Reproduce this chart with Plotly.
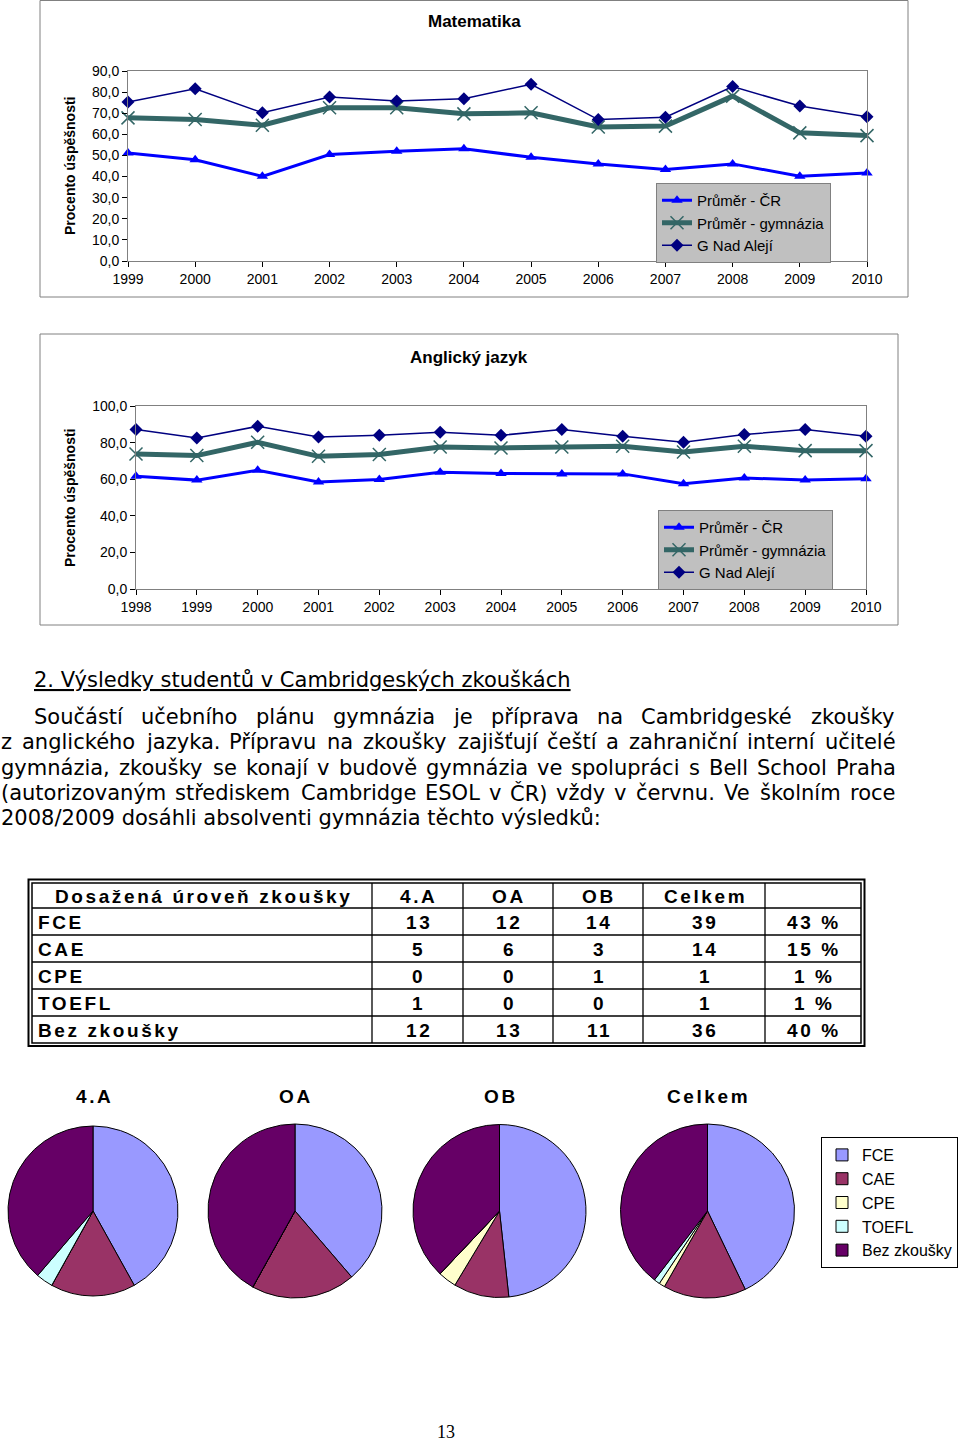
import unicodedata
import plotly.graph_objects as go

# ---------------- data ----------------
math_years = [1999, 2000, 2001, 2002, 2003, 2004, 2005, 2006, 2007, 2008, 2009, 2010]
math_cr = [51.2, 48.0, 40.1, 50.4, 52.0, 53.2, 49.1, 46.0, 43.3, 46.0, 40.1, 41.7]
math_gym = [67.8, 67.0, 64.3, 72.6, 72.6, 69.7, 70.2, 63.5, 63.9, 78.1, 60.7, 59.4]
math_gna = [75.3, 81.6, 70.2, 77.7, 75.8, 76.9, 83.7, 67.0, 68.1, 82.6, 73.4, 68.3]

eng_years = [1998, 1999, 2000, 2001, 2002, 2003, 2004, 2005, 2006, 2007, 2008, 2009, 2010]
eng_cr = [61.6, 59.5, 64.9, 58.5, 59.8, 63.8, 63.1, 62.9, 62.9, 57.5, 60.7, 59.5, 60.2]
eng_gym = [73.8, 72.9, 80.2, 72.5, 73.5, 77.6, 77.1, 77.6, 78.0, 74.9, 78.0, 75.6, 75.6]
eng_gna = [87.1, 82.5, 88.9, 83.1, 84.0, 85.6, 84.0, 87.1, 83.5, 80.2, 84.4, 87.1, 83.5]

series_names = ["Průměr - ČR", "Průměr - gymnázia", "G Nad Alejí"]

exam_levels = ["FCE", "CAE", "CPE", "TOEFL", "Bez zkoušky"]
class_names = ["4.A", "OA", "OB", "Celkem"]
counts_4A = [13, 5, 0, 1, 12]
counts_OA = [12, 6, 0, 0, 13]
counts_OB = [14, 3, 1, 0, 11]
counts_total = [39, 14, 1, 1, 36]
percent_labels = ["43 %", "15 %", "1 %", "1 %", "40 %"]
table_header = ["Dosažená úroveň zkoušky", "4.A", "OA", "OB", "Celkem", ""]

pie_colors = ["#9999FF", "#993366", "#FFFFCC", "#CCFFFF", "#660066"]

heading = "2. Výsledky studentů v Cambridgeských zkouškách"
para_lines = [
    "Součástí učebního plánu gymnázia je příprava na Cambridgeské zkoušky",
    "z anglického jazyka. Přípravu na zkoušky zajišťují čeští a zahraniční interní učitelé",
    "gymnázia, zkoušky se konají v budově gymnázia ve spolupráci s Bell School Praha",
    "(autorizovaným střediskem Cambridge ESOL v ČR) vždy v červnu. Ve školním roce",
    "2008/2009 dosáhli absolventi gymnázia těchto výsledků:",
]
page_number = "13"

# ---------------- helpers ----------------
W, H = 960, 1444
def X(px):
    return px / W
def Y(py):
    return 1 - py / H

# approximate DejaVu Sans advance widths (units per 2048 em) for justified text layout
ADV = {' ': 651, '(': 799, ')': 799, ',': 651, '-': 739, '.': 651, '/': 690, ':': 690,
       'A': 1401, 'B': 1405, 'C': 1430, 'D': 1577, 'E': 1294, 'F': 1178, 'G': 1587, 'H': 1540,
       'I': 604, 'J': 604, 'K': 1343, 'L': 1141, 'M': 1767, 'N': 1532, 'O': 1612, 'P': 1235,
       'Q': 1612, 'R': 1423, 'S': 1300, 'T': 1251, 'U': 1499, 'V': 1401, 'W': 2025, 'X': 1403,
       'Y': 1251, 'Z': 1403,
       'a': 1255, 'b': 1300, 'c': 1126, 'd': 1300, 'e': 1260, 'f': 721, 'g': 1300, 'h': 1298,
       'i': 569, 'j': 569, 'k': 1186, 'l': 569, 'm': 1995, 'n': 1298, 'o': 1253, 'p': 1300,
       'q': 1300, 'r': 842, 's': 1067, 't': 803, 'u': 1298, 'v': 1212, 'w': 1675, 'x': 1212,
       'y': 1212, 'z': 1075}
def text_width(s, size):
    tot = 0
    for ch in s:
        base = unicodedata.normalize("NFD", ch)[0]
        tot += ADV.get(base, 1303)
    return tot / 2048 * size

fig = go.Figure()

styles = [
    dict(color="#0000FF", width=3, symbol="triangle-up", msize=10, mline=0),
    dict(color="#336666", width=5, symbol="x-thin-open", msize=13, mline=1.5),
    dict(color="#000080", width=1.5, symbol="diamond", msize=10, mline=0),
]

for years, data, xa, ya, lg in [
    (math_years, [math_cr, math_gym, math_gna], "x", "y", "legend"),
    (eng_years, [eng_cr, eng_gym, eng_gna], "x2", "y2", "legend2"),
]:
    for name, vals, st in zip(series_names, data, styles):
        fig.add_trace(go.Scatter(
            x=years, y=vals, name=name, mode="lines+markers",
            line=dict(color=st["color"], width=st["width"]),
            marker=dict(symbol=st["symbol"], size=st["msize"], color=st["color"],
                        line=dict(color=st["color"], width=st["mline"])),
            xaxis=xa, yaxis=ya, legend=lg, cliponaxis=False,
        ))

# pies
pie_domains = [(8, 178), (208, 382), (413, 586), (620, 795)]
for cname, vals, (x0, x1) in zip(class_names, [counts_4A, counts_OA, counts_OB, counts_total], pie_domains):
    fig.add_trace(go.Pie(
        labels=exam_levels, values=vals, name=cname,
        sort=False, direction="clockwise", rotation=0,
        marker=dict(colors=pie_colors, line=dict(color="black", width=1)),
        textinfo="none", hoverinfo="label+value+percent",
        domain=dict(x=[X(x0), X(x1)], y=[Y(1298), Y(1124)]),
        legend="legend3",
    ))

axis_common = dict(showline=True, linecolor="#808080", mirror=True, ticks="outside",
                   ticklen=5, tickcolor="black", showgrid=False, zeroline=False,
                   tickfont=dict(family="Liberation Sans, Arial", size=14, color="black"))

lfont = dict(family="Liberation Sans, Arial", size=15, color="black")
fig.update_layout(
    width=W, height=H, margin=dict(l=0, r=0, t=0, b=0, autoexpand=False),
    paper_bgcolor="white", plot_bgcolor="white",
    separators=", ",
    font=dict(family="Liberation Sans, Arial", color="black"),
    xaxis=dict(domain=[X(128), X(867)], range=[1999, 2010], tickvals=math_years, **axis_common),
    yaxis=dict(domain=[Y(261), Y(71)], range=[0, 90], dtick=10, tickformat=".1f", **axis_common),
    xaxis2=dict(domain=[X(136), X(866)], range=[1998, 2010], tickvals=eng_years, anchor="y2", **axis_common),
    yaxis2=dict(domain=[Y(589), Y(406)], range=[0, 100], dtick=20, tickformat=".1f", anchor="x2", **axis_common),
    legend=dict(x=X(656), y=Y(183), xanchor="left", yanchor="top", bgcolor="#C0C0C0",
                bordercolor="#808080", borderwidth=1, font=lfont),
    legend2=dict(x=X(658), y=Y(510), xanchor="left", yanchor="top", bgcolor="#C0C0C0",
                 bordercolor="#808080", borderwidth=1, font=lfont),
    legend3=dict(x=X(821), y=Y(1137), xanchor="left", yanchor="top", bgcolor="white",
                 bordercolor="black", borderwidth=1,
                 font=dict(family="Liberation Sans, Arial", size=16, color="black")),
    showlegend=True,
)

# ---------------- shapes ----------------
shapes = [
    dict(type="rect", xref="paper", yref="paper", x0=X(40), x1=X(908), y0=Y(297), y1=Y(0.5),
         line=dict(color="#808080", width=1)),
    dict(type="rect", xref="paper", yref="paper", x0=X(40), x1=X(898), y0=Y(625), y1=Y(334),
         line=dict(color="#808080", width=1)),
]

# table geometry (pixels)
col_edges = [32, 372, 463, 553, 643, 765, 861]
row_edges = [883, 908, 935, 962, 989, 1016, 1043]
shapes.append(dict(type="rect", xref="paper", yref="paper", x0=X(28.5), x1=X(864.5),
                   y0=Y(1046), y1=Y(879.5), line=dict(color="black", width=2)))
shapes.append(dict(type="rect", xref="paper", yref="paper", x0=X(col_edges[0]), x1=X(col_edges[-1]),
                   y0=Y(row_edges[-1]), y1=Y(row_edges[0]), line=dict(color="black", width=1.5)))
for cx in col_edges[1:-1]:
    shapes.append(dict(type="line", xref="paper", yref="paper", x0=X(cx), x1=X(cx),
                       y0=Y(row_edges[-1]), y1=Y(row_edges[0]), line=dict(color="black", width=1.3)))
for ry in row_edges[1:-1]:
    shapes.append(dict(type="line", xref="paper", yref="paper", x0=X(col_edges[0]), x1=X(col_edges[-1]),
                       y0=Y(ry), y1=Y(ry), line=dict(color="black", width=1.3)))
fig.update_layout(shapes=shapes)

# ---------------- text ----------------
ann = []
def add_text(text, x, y, size, family="Liberation Sans, Arial", xanchor="center", angle=0):
    ann.append(dict(text=text, x=X(x), y=Y(y), xref="paper", yref="paper", showarrow=False,
                    xanchor=xanchor, yanchor="middle", textangle=angle, borderpad=0,
                    font=dict(family=family, size=size, color="black")))

def spaced(s):
    return '<span style="font-weight:bold;letter-spacing:2.6px">%s</span>' % s

add_text("<b>Matematika</b>", 474, 22, 17)
add_text("<b>Anglický jazyk</b>", 469, 357, 17)
add_text("<b>Procento úspěšnosti</b>", 70, 166, 14, angle=-90)
add_text("<b>Procento úspěšnosti</b>", 70, 498, 14, angle=-90)

pfont = "DejaVu Sans, Verdana"
PS = 21
add_text("<u>%s</u>" % heading, 33, 680, PS, family=pfont, xanchor="left")
line_y = [717, 742, 768, 793, 818]
line_x0 = [33, 0, 0, 0, 0]
RIGHT = 895
for i, (line, ly, lx0) in enumerate(zip(para_lines, line_y, line_x0)):
    words = line.split(" ")
    if i == len(para_lines) - 1:
        add_text(line, lx0, ly, PS, family=pfont, xanchor="left")
        continue
    widths = [text_width(w, PS) for w in words]
    gap = (RIGHT - lx0 - sum(widths)) / (len(words) - 1)
    cx = lx0
    for w, ww in zip(words, widths):
        add_text(w, cx, ly, PS, family=pfont, xanchor="left")
        cx += ww + gap

# table text
col_values = [
    exam_levels,
    [str(v) for v in counts_4A],
    [str(v) for v in counts_OA],
    [str(v) for v in counts_OB],
    [str(v) for v in counts_total],
    percent_labels,
]
TS = 19
for ci, h in enumerate(table_header):
    if h:
        add_text(spaced(h), (col_edges[ci] + col_edges[ci + 1]) / 2 + 1.3,
                 (row_edges[0] + row_edges[1]) / 2 + 1, TS)
for ci, col in enumerate(col_values):
    for ri, v in enumerate(col):
        yc = (row_edges[ri + 1] + row_edges[ri + 2]) / 2 + 1
        if ci == 0:
            add_text(spaced(v), col_edges[0] + 5, yc, TS, xanchor="left")
        else:
            add_text(spaced(v), (col_edges[ci] + col_edges[ci + 1]) / 2 + 1.3, yc, TS)

for cname, (x0, x1) in zip(class_names, pie_domains):
    add_text(spaced(cname), (x0 + x1) / 2 + 1.3, 1096, TS)

add_text(page_number, 446, 1432, 18, family="Liberation Serif, Times New Roman")

fig.update_layout(annotations=ann)

fig.write_html("out.html", config={"displayModeBar": False},
               post_script="document.body.style.margin='0';document.body.style.overflow='hidden';")
